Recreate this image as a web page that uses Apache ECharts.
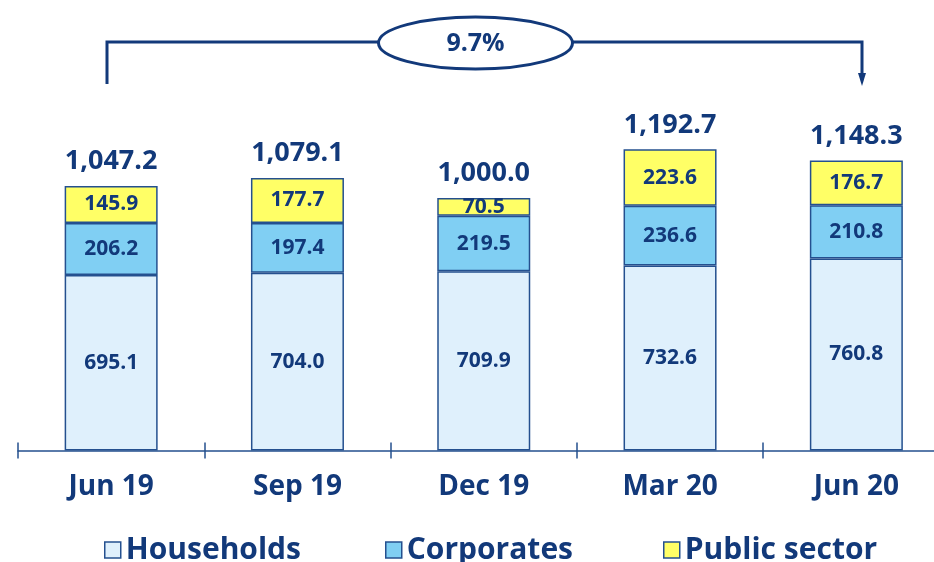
<!DOCTYPE html>
<html>
<head>
<meta charset="utf-8">
<script src="https://cdn.jsdelivr.net/npm/echarts@6/dist/echarts.min.js"></script>
<style>
  html, body { margin: 0; padding: 0; background: #fff; }
  #main { width: 934px; height: 562px; }
</style>
</head>
<body>
<div id="main"></div>
<script>
var categories = ['Jun 19', 'Sep 19', 'Dec 19', 'Mar 20', 'Jun 20'];
var households = [695.1, 704.0, 709.9, 732.6, 760.8];
var corporates = [206.2, 197.4, 219.5, 236.6, 210.8];
var publicSector = [145.9, 177.7, 70.5, 223.6, 176.7];
var totals = [1047.2, 1079.1, 1000.0, 1192.7, 1148.3];
var growthLabel = '9.7%';

var navy = '#12397a';
var border = '#24508f';
var font = 'Open Sans';

function fmtTotal(v) {
    return v.toLocaleString('en-US', { minimumFractionDigits: 1, maximumFractionDigits: 1 });
}

function stackSeries(name, data, color) {
    return {
        name: name,
        type: 'bar',
        stack: 'total',
        barWidth: 93,
        data: data,
        itemStyle: { color: color, borderColor: border, borderWidth: 1.5 },
        label: {
            show: true,
            position: 'inside',
            color: navy,
            fontFamily: font,
            fontWeight: 'bold',
            fontSize: 21,
            formatter: function (p) { return p.value.toFixed(1); }
        }
    };
}

var legendItem = function (name, left) {
    return {
        data: [name],
        left: left,
        top: 530,
        icon: 'rect',
        itemWidth: 16,
        itemHeight: 16,
        itemGap: 9,
        itemStyle: { borderColor: border, borderWidth: 1.5 },
        textStyle: { color: navy, fontFamily: font, fontWeight: 'bold', fontSize: 30 },
        selectedMode: false
    };
};

var myChart = echarts.init(document.getElementById('main'));
var option = {
    animation: false,
    grid: { left: 18, width: 931.5, top: 97, bottom: 111.5, outerBoundsMode: 'none', containLabel: false },
    legend: [
        legendItem('Households', 99),
        legendItem('Corporates', 380),
        legendItem('Public sector', 658)
    ],
    xAxis: [
        {
            type: 'category',
            data: categories,
            axisLine: { lineStyle: { color: border, width: 1.5 } },
            axisTick: { show: true, length: 8, lineStyle: { color: border, width: 1.5 } },
            axisLabel: { color: navy, fontFamily: font, fontWeight: 'bold', fontSize: 28, margin: 23 }
        },
        {
            type: 'category',
            data: categories,
            position: 'bottom',
            axisLine: { show: false },
            axisTick: { show: true, inside: true, length: 8, lineStyle: { color: border, width: 1.5 } },
            axisLabel: { show: false }
        }
    ],
    yAxis: {
        type: 'value',
        min: 0,
        max: 1400,
        show: false,
        splitLine: { show: false }
    },
    series: [
        stackSeries('Households', households, '#dff0fc'),
        stackSeries('Corporates', corporates, '#80cff3'),
        stackSeries('Public sector', publicSector, '#ffff66'),
        {
            name: 'Total',
            type: 'bar',
            barWidth: 93,
            barGap: '-100%',
            z: 1,
            silent: true,
            data: totals,
            itemStyle: { color: 'rgba(0,0,0,0)' },
            label: {
                show: true,
                position: 'top',
                distance: 11,
                color: navy,
                fontFamily: font,
                fontWeight: 'bold',
                fontSize: 27,
                formatter: function (p) { return fmtTotal(p.value); }
            }
        }
    ],
    graphic: [
        {
            type: 'polyline',
            shape: { points: [[107, 84], [107, 42], [378, 42]] },
            style: { stroke: navy, lineWidth: 3, fill: null }
        },
        {
            type: 'polyline',
            shape: { points: [[573, 42], [862, 42], [862, 74]] },
            style: { stroke: navy, lineWidth: 3, fill: null }
        },
        {
            type: 'polygon',
            shape: { points: [[858, 73], [866, 73], [862, 86]] },
            style: { fill: navy }
        },
        {
            type: 'ellipse',
            shape: { cx: 475.5, cy: 43, rx: 97, ry: 26 },
            style: { stroke: navy, lineWidth: 3, fill: '#fff' }
        },
        {
            type: 'text',
            x: 475.5,
            y: 44,
            style: {
                text: growthLabel,
                align: 'center',
                verticalAlign: 'middle',
                fill: navy,
                font: 'bold 25px "Open Sans"'
            }
        }
    ]
};
myChart.setOption(option);
</script>
</body>
</html>
